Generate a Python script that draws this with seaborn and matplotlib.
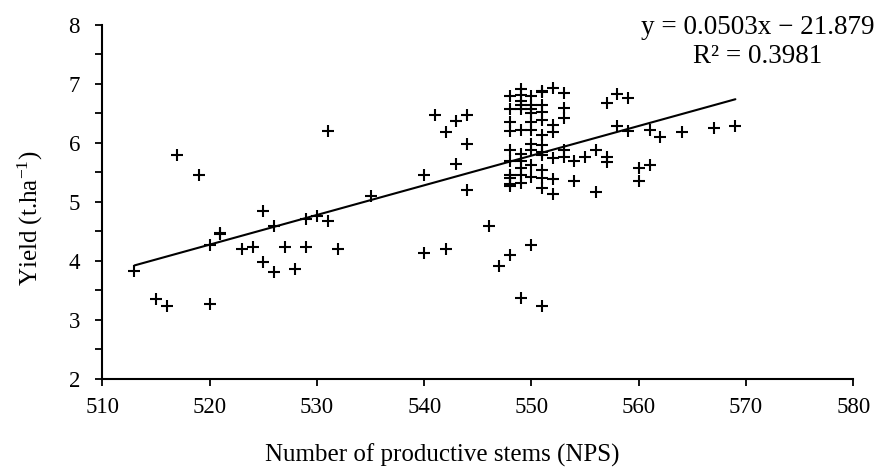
import numpy as np
import pandas as pd
import seaborn as sns
import matplotlib
matplotlib.use('Agg')
import matplotlib.pyplot as plt
from matplotlib.ticker import MultipleLocator

# stems (NPS) and yield (t/ha)
nps = [513, 515, 516, 517, 519, 520, 520, 521, 521, 523, 524, 525, 525, 526, 526,
       527, 528, 529, 529, 530, 531, 531, 532, 535, 540, 540, 541, 542, 542, 543,
       543, 544, 544, 544, 546, 547,
       548, 548, 548, 548, 548, 548, 548, 548, 548, 548, 548,
       549, 549, 549, 549, 549, 549, 549, 549, 549, 549, 549, 549,
       550, 550, 550, 550, 550, 550, 550, 550, 550, 550, 550,
       551, 551, 551, 551, 551, 551, 551, 551, 551, 551, 551, 551, 551,
       552, 552, 552, 552, 552, 552,
       553, 553, 553, 553, 553,
       554, 554, 555, 556, 556, 557, 557, 557, 558, 558, 559, 559,
       560, 560, 561, 561, 562, 564, 567, 569]
yield_t = [3.83, 3.36, 3.24, 5.79, 5.45, 3.27, 4.27, 4.45, 4.47, 4.21, 4.23, 4.85, 3.98, 4.60, 3.82,
           4.23, 3.86, 4.71, 4.24, 4.77, 4.67, 6.20, 4.20, 5.11, 5.45, 4.14, 6.48, 6.19, 4.20, 6.38,
           5.64, 6.48, 5.99, 5.20, 4.60, 3.92,
           6.80, 6.58, 6.36, 6.20, 5.88, 5.70, 5.45, 5.40, 5.30, 5.27, 4.11,
           6.92, 6.82, 6.72, 6.64, 6.58, 6.22, 5.82, 5.70, 5.58, 5.45, 5.32, 3.38,
           6.80, 6.64, 6.58, 6.50, 6.36, 6.22, 5.99, 5.88, 5.63, 5.43, 4.27,
           6.86, 6.88, 6.64, 6.52, 6.39, 6.14, 5.97, 5.84, 5.80, 5.55, 5.40, 5.23, 3.24,
           6.93, 6.31, 6.19, 5.75, 5.39, 5.13,
           6.84, 6.60, 6.42, 5.88, 5.76,
           5.70, 5.36, 5.76, 5.88, 5.17, 6.68, 5.76, 5.67, 6.83, 6.29, 6.76, 6.20,
           5.57, 5.36, 6.22, 5.63, 6.10, 6.19, 6.25, 6.29]

# trendline as printed on the chart
slope = 0.0503
intercept = -21.879
r2 = 0.3981

df = pd.DataFrame({'nps': nps, 'yield': yield_t})

sns.set_style('ticks')
plt.rcParams['font.family'] = ['Liberation Serif', 'DejaVu Serif']
plt.rcParams['mathtext.fontset'] = 'custom'
plt.rcParams['mathtext.rm'] = 'Liberation Serif'
plt.rcParams['text.color'] = 'black'
plt.rcParams['axes.labelcolor'] = 'black'

fig = plt.figure(figsize=(8.84, 4.76), dpi=100)
ax = fig.add_axes([0.1157, 0.2038, 0.8497, 0.7437])

sns.scatterplot(data=df, x='nps', y='yield', marker='+', color='black',
                s=70, linewidth=1.5, ax=ax, zorder=3)

xs = np.array([df['nps'].min(), df['nps'].max()])
ax.plot(xs, slope * xs + intercept, color='black', lw=1.5, zorder=2)

ax.set_xlim(510, 580)
ax.set_ylim(2, 8)
ax.xaxis.set_major_locator(MultipleLocator(10))
ax.yaxis.set_major_locator(MultipleLocator(1))
ax.yaxis.set_minor_locator(MultipleLocator(0.5))
ax.tick_params(axis='both', which='both', direction='out', length=5, width=1.3,
               color='black', labelsize=16.5, labelcolor='black')
ax.tick_params(axis='x', pad=8)
ax.tick_params(axis='y', pad=11)

for side in ['top', 'right']:
    ax.spines[side].set_visible(False)
for side in ['left', 'bottom']:
    ax.spines[side].set_linewidth(1.5)
    ax.spines[side].set_color('black')

ax.set_xlabel('Number of productive stems (NPS)', fontsize=18)
ax.set_ylabel('Yield (t.ha$\\mathrm{^{-1}}$)', fontsize=18)
ax.xaxis.label.set_va('center')
ax.yaxis.label.set_va('center')
ax.xaxis.set_label_coords(0.452, -0.215)
ax.yaxis.set_label_coords(-0.096, 0.455)

fig.text(0.989, 0.943, f'y = {slope}x \u2212 {abs(intercept)}', ha='right', va='center', fontsize=19.5)
fig.text(0.857, 0.882, f'R\u00b2 = {r2}', ha='center', va='center', fontsize=19.5)

fig.savefig('out.png', dpi=100)
